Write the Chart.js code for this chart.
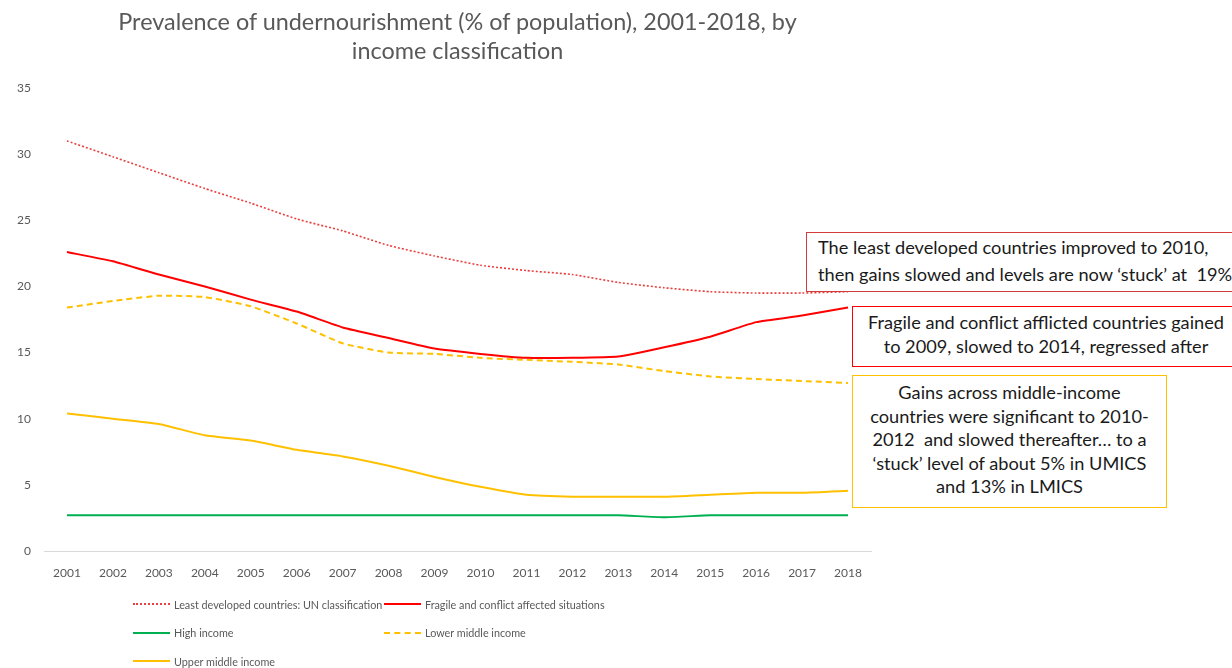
<!DOCTYPE html>
<html>
<head>
<meta charset="utf-8">
<script src="https://cdn.jsdelivr.net/npm/chart.js@4"></script>
<style>
  html, body { margin: 0; padding: 0; background: #fff; }
  body { width: 1232px; height: 668px; overflow: hidden; position: relative; font-family: Lato, "Open Sans", sans-serif; }
  #wrap { position: absolute; left: 0; top: 0; width: 1232px; height: 668px; }
  #title { position: absolute; left: 44px; width: 827px; top: 7px; text-align: center; color: #595959; font-size: 23.4px; line-height: 29px; }
  .note { position: absolute; color: #1a1a1a; font-size: 18.2px; box-sizing: border-box; background: #fff; white-space: nowrap; }
  #legend { position: absolute; left: 133px; top: 594px; color: #595959; font-size: 10.8px; }
  .item { position: absolute; white-space: nowrap; display: flex; align-items: center; height: 20px; }
  .swatch { width: 37px; height: 0; margin-right: 4px; }
</style>
</head>
<body>
<div id="wrap"><canvas id="chart" width="1232" height="668"></canvas></div>
<div id="title">Prevalence of undernourishment (% of population), 2001-2018, by<br>income classification</div>

<div class="note" style="left:806px; top:232px; width:440px; height:60px; border:1.5px solid #d23b3b; padding:1px 0 0 11px; line-height:27px;">The least developed countries improved to 2010,<br>then gains slowed and levels are now ‘stuck’ at&nbsp; 19%</div>
<div class="note" style="left:852px; top:306px; width:388px; height:61px; border:1.5px solid #ff0000; padding:3px 0 0 0; line-height:24px; text-align:center;">Fragile and conflict afflicted countries gained<br>to 2009, slowed to 2014, regressed after</div>
<div class="note" style="left:852px; top:375px; width:315px; height:133px; border:1.5px solid #ffc000; padding:5px 0 0 0; line-height:23.5px; text-align:center;">Gains across middle-income<br>countries were significant to 2010-<br>2012&nbsp; and slowed thereafter… to a<br>‘stuck’ level of about 5% in UMICS<br>and 13% in LMICS</div>

<div id="legend"></div>

<script>
const years = ['2001','2002','2003','2004','2005','2006','2007','2008','2009','2010','2011','2012','2013','2014','2015','2016','2017','2018'];
const yTicks = [0, 5, 10, 15, 20, 25, 30, 35];

const leastDeveloped = [31.0, 29.8, 28.6, 27.4, 26.3, 25.1, 24.2, 23.1, 22.3, 21.6, 21.2, 20.9, 20.3, 19.9, 19.6, 19.5, 19.5, 19.6];
const fragile        = [22.6, 21.9, 20.9, 20.0, 19.0, 18.1, 16.9, 16.1, 15.3, 14.9, 14.6, 14.6, 14.7, 15.4, 16.2, 17.3, 17.8, 18.4];
const highIncome     = [2.7, 2.7, 2.7, 2.7, 2.7, 2.7, 2.7, 2.7, 2.7, 2.7, 2.7, 2.7, 2.7, 2.55, 2.7, 2.7, 2.7, 2.7];
const lowerMiddle    = [18.4, 18.9, 19.3, 19.2, 18.5, 17.2, 15.7, 15.0, 14.9, 14.6, 14.45, 14.3, 14.1, 13.6, 13.2, 13.0, 12.85, 12.7];
const upperMiddle    = [10.4, 10.0, 9.6, 8.75, 8.35, 7.65, 7.15, 6.45, 5.6, 4.85, 4.25, 4.1, 4.1, 4.1, 4.25, 4.4, 4.4, 4.55];

const series = [
  { label: 'Least developed countries: UN classification', data: leastDeveloped, color: '#e8403f', dash: [2, 2], width: 1.6, css: 'dotted', col: 0, row: 0 },
  { label: 'Fragile and conflict affected situations', data: fragile, color: '#ff0000', dash: [], width: 2, css: 'solid', col: 1, row: 0 },
  { label: 'High income', data: highIncome, color: '#00b050', dash: [], width: 2, css: 'solid', col: 0, row: 1 },
  { label: 'Lower middle income', data: lowerMiddle, color: '#ffc000', dash: [6, 4], width: 2, css: 'dashed', col: 1, row: 1 },
  { label: 'Upper middle income', data: upperMiddle, color: '#ffc000', dash: [], width: 2, css: 'solid', col: 0, row: 2 }
];

const tickColor = '#595959';
const tickFont = { family: 'Lato, "Open Sans", sans-serif', size: 12 };

new Chart(document.getElementById('chart'), {
  type: 'line',
  data: {
    labels: years,
    datasets: series.map(s => ({
      label: s.label,
      data: s.data,
      borderColor: s.color,
      borderDash: s.dash,
      borderWidth: s.width,
      pointRadius: 0,
      fill: false,
      tension: 0.15
    }))
  },
  options: {
    responsive: false,
    animation: false,
    layout: { padding: { left: 0, right: 361, top: 88, bottom: 77 } },
    plugins: {
      legend: { display: false },
      tooltip: { enabled: false }
    },
    scales: {
      x: {
        offset: true,
        grid: { display: false, drawTicks: false },
        border: { display: true, color: '#d9d9d9', width: 1 },
        ticks: { color: tickColor, font: tickFont, padding: 15, maxRotation: 0, autoSkip: false },
        afterFit: scale => { scale.height = 40; }
      },
      y: {
        min: 0,
        max: 35,
        afterBuildTicks: scale => { scale.ticks = yTicks.map(v => ({ value: v })); },
        grid: { display: false, drawTicks: false },
        border: { display: false },
        ticks: { color: tickColor, font: tickFont, padding: 13 },
        afterFit: scale => { scale.width = 44; }
      }
    }
  }
});

const legend = document.getElementById('legend');
series.forEach(s => {
  const item = document.createElement('div');
  item.className = 'item';
  item.style.left = (s.col * 251) + 'px';
  item.style.top = (s.row * 28.5) + 'px';
  const sw = document.createElement('span');
  sw.className = 'swatch';
  sw.style.borderTop = '2px ' + s.css + ' ' + s.color;
  item.appendChild(sw);
  item.appendChild(document.createTextNode(s.label));
  legend.appendChild(item);
});
</script>
</body>
</html>
